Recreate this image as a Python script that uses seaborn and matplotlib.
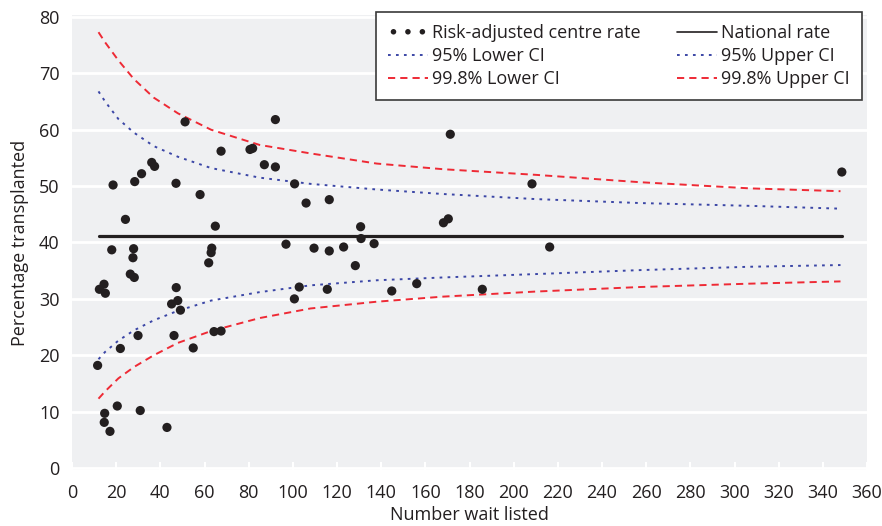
import matplotlib
matplotlib.use("Agg")
import matplotlib.pyplot as plt
import seaborn as sns
import pandas as pd

# ---- data ----
wait_listed = [11.6, 12.4, 14.5, 15.1, 14.8, 14.6, 17.2, 18.0, 18.6, 20.5, 21.9, 24.2, 26.4, 28.2,
               27.6, 27.9, 28.4, 29.9, 30.9, 31.5, 36.1, 37.4, 43.0, 45.1, 46.2, 47.1, 47.2, 47.9,
               49.1, 51.2, 54.9, 58.0, 61.9, 63.0, 63.3, 64.3, 64.9, 67.5, 67.5, 80.6, 81.8, 87.1,
               92.1, 92.1, 96.9, 100.7, 100.8, 102.9, 106.0, 109.6, 115.6, 116.5, 116.5, 123.0,
               128.3, 130.7, 130.9, 136.8, 144.8, 156.1, 168.2, 170.4, 171.3, 185.8, 208.3, 216.3,
               348.6]
centre_rate = [18.2, 31.7, 32.6, 31.0, 9.7, 8.1, 6.5, 38.7, 50.2, 11.0, 21.2, 44.1, 34.4, 33.8,
               37.3, 38.9, 50.8, 23.5, 10.2, 52.2, 54.2, 53.5, 7.2, 29.1, 23.5, 50.5, 32.0, 29.7,
               28.0, 61.4, 21.3, 48.5, 36.4, 38.2, 39.0, 24.2, 42.9, 56.2, 24.3, 56.5, 56.7, 53.8,
               61.8, 53.4, 39.7, 30.0, 50.4, 32.1, 47.0, 39.0, 31.7, 47.6, 38.5, 39.2,
               35.9, 42.8, 40.7, 39.8, 31.4, 32.7, 43.5, 44.2, 59.2, 31.7, 50.4, 39.2,
               52.5]

national_rate = 41.2

curve_n = [12, 15, 21, 28, 37, 48, 63, 85, 108, 138, 168, 210, 257, 307, 348]
lower_95 = [19.3, 20.6, 22.6, 24.4, 26.2, 27.9, 29.7, 31.2, 32.4, 33.3, 33.8, 34.4, 35.1, 35.7, 36.0]
upper_95 = [66.8, 65.0, 61.9, 59.5, 57.1, 55.2, 53.2, 51.5, 50.4, 49.4, 48.6, 47.7, 47.0, 46.5, 46.0]
lower_998 = [12.3, 13.6, 15.9, 17.9, 20.0, 22.2, 24.3, 26.6, 28.3, 29.5, 30.4, 31.3, 32.1, 32.7, 33.1]
upper_998 = [77.3, 75.5, 72.3, 69.0, 65.7, 62.9, 60.0, 57.3, 55.8, 54.0, 53.0, 52.0, 50.7, 49.6, 49.1]

x_ticks = list(range(0, 361, 20))
y_ticks = list(range(0, 81, 10))

# ---- styling ----
sns.set_theme(style="darkgrid", rc={
    "axes.facecolor": "#eff0f2",
    "grid.color": "white",
    "grid.linewidth": 2.0,
})
plt.rcParams["font.family"] = ["Open Sans", "DejaVu Sans"]
text_col = "#231f20"
blue = "#3b46a6"
red = "#ee2a35"
fs = 13

fig = plt.figure(figsize=(8.82, 5.26), dpi=100)
ax = fig.add_axes([72 / 882, 56 / 526, 795 / 882, 455 / 526])

pts = pd.DataFrame({"n": wait_listed, "rate": centre_rate})
curves = pd.DataFrame({"n": curve_n, "l95": lower_95, "u95": upper_95,
                       "l998": lower_998, "u998": upper_998})
nat = pd.DataFrame({"n": [curve_n[0], curve_n[-1] + 0.6], "rate": [national_rate, national_rate]})

sns.lineplot(data=nat, x="n", y="rate", ax=ax, color=text_col, lw=2.3,
             label="National rate", estimator=None, sort=False)
sns.lineplot(data=curves, x="n", y="l95", ax=ax, color=blue, lw=1.4,
             label="95% Lower CI", estimator=None)
sns.lineplot(data=curves, x="n", y="u95", ax=ax, color=blue, lw=1.4,
             label="95% Upper CI", estimator=None)
sns.lineplot(data=curves, x="n", y="l998", ax=ax, color=red, lw=1.4,
             label="99.8% Lower CI", estimator=None)
sns.lineplot(data=curves, x="n", y="u998", ax=ax, color=red, lw=1.4,
             label="99.8% Upper CI", estimator=None)
lines = ax.get_lines()
for ln in lines[1:3]:
    ln.set_linestyle((0, (1.4, 2.7)))
for ln in lines[3:5]:
    ln.set_linestyle((0, (3.7, 2.6)))

sns.scatterplot(data=pts, x="n", y="rate", ax=ax, color=text_col, s=44,
                edgecolor="none", label="Risk-adjusted centre rate", zorder=5)

ax.set_xlim(0, 360)
ax.set_ylim(-0.35, 80.35)
ax.set_xticks(x_ticks)
ax.set_yticks(y_ticks)
ax.grid(axis="x", visible=False)
ax.grid(axis="y", visible=True)
for sp in ax.spines.values():
    sp.set_visible(False)
ax.tick_params(axis="x", direction="in", length=6, width=1.5, color="white",
               labelsize=fs, labelcolor=text_col, pad=10, bottom=True)
ax.tick_params(axis="y", length=0, labelsize=fs, labelcolor=text_col, pad=9)
ax.set_xlabel("Number wait listed", fontsize=fs, color=text_col, labelpad=3)
ax.set_ylabel("Percentage transplanted", fontsize=fs, color=text_col, labelpad=7)

handles, labels = ax.get_legend_handles_labels()
hmap = dict(zip(labels, handles))
order = ["Risk-adjusted centre rate", "95% Lower CI", "99.8% Lower CI",
         "National rate", "95% Upper CI", "99.8% Upper CI"]
leg = ax.legend([hmap[k] for k in order], order, ncol=2, loc="upper right",
                bbox_to_anchor=(790 / 795, 458 / 455), fontsize=fs,
                frameon=True, fancybox=False, framealpha=1, edgecolor="#3a3a3a",
                facecolor="white", scatterpoints=3, scatteryoffsets=[0.5],
                markerscale=0.6, handlelength=2.2, handletextpad=0.25,
                columnspacing=2.0, labelspacing=0.28, borderpad=0.67,
                borderaxespad=0.0)
leg.get_frame().set_linewidth(1.2)
for t in leg.get_texts():
    t.set_color(text_col)
for h in leg.legend_handles:
    if hasattr(h, "get_label") and h.get_label() == "National rate":
        h.set_linewidth(1.2)

fig.savefig("out.png", dpi=100)
